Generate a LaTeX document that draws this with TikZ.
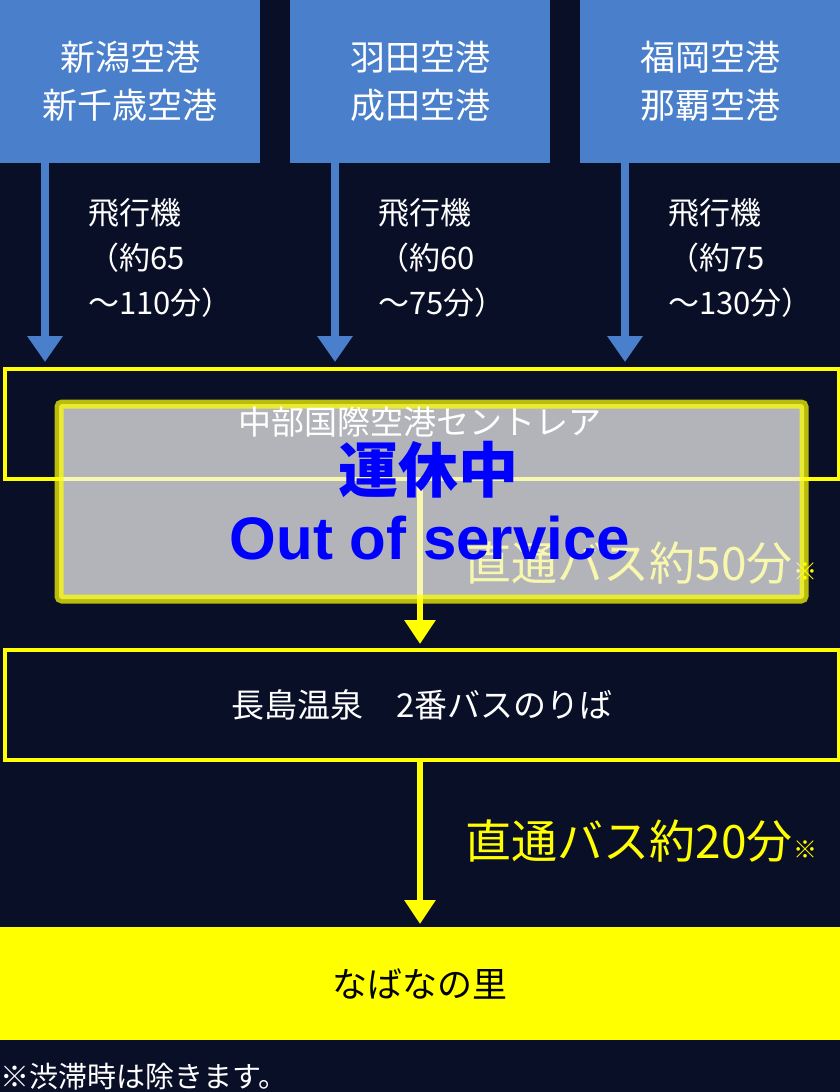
\documentclass[tikz,border=0pt]{standalone}
\usepackage{fontspec}
\setmainfont{Noto Sans CJK JP}
\usetikzlibrary{arrows.meta}
\definecolor{bg}{HTML}{0A0F28}
\definecolor{topblue}{HTML}{4A7FCB}
\definecolor{yel}{HTML}{FFFF00}
\definecolor{ovgray}{HTML}{F4F4F2}
\begin{document}
\begin{tikzpicture}[x=1pt,y=-1pt,
  topbox/.style={fill=topblue,minimum width=260pt,minimum height=163pt,anchor=north west,inner sep=0pt,text=white,font=\fontsize{35}{48}\selectfont,align=center},
  bluearrow/.style={topblue,line width=8pt,-{Triangle[length=26pt,width=34pt]}},
  yelarrow/.style={yel,line width=6pt,-{Triangle[length=24pt,width=30pt]}},
  framebox/.style={draw=yel,line width=4pt,minimum width=834pt,minimum height=110pt,anchor=north west,inner sep=0pt,text=white,font=\fontsize{33}{36}\selectfont},
  flight/.style={anchor=north west,text=white,align=left,font=\fontsize{31}{45}\selectfont,inner sep=0pt},
  buslabel/.style={text=yel,font=\fontsize{46}{48}\selectfont,anchor=base east,inner sep=0pt}]
\fill[bg] (0,0) rectangle (840,1092);
\useasboundingbox (0,0) rectangle (840,1092);
\node[topbox] (a1) at (0,0) {新潟空港\\新千歳空港};
\node[topbox] (a2) at (290,0) {羽田空港\\成田空港};
\node[topbox] (a3) at (580,0) {福岡空港\\那覇空港};
\node[framebox] (c) at (3,367) {\phantom{中部国際空港セントレア}};
\node[framebox] (n) at (3,648) {長島温泉　2番バスのりば};
\node[fill=yel,minimum width=840pt,minimum height=113pt,anchor=north west,inner sep=0pt,font=\fontsize{35}{38}\selectfont] (s) at (0,927) {なばなの里};
\coordinate (t1) at (45,362); \coordinate (t2) at (335,362); \coordinate (t3) at (625,362);
\draw[bluearrow] (a1.south west -| t1) -- (t1);
\draw[bluearrow] (a2.south west -| t2) -- (t2);
\draw[bluearrow] (a3.south west -| t3) -- (t3);
\node[flight] (f1) at (88,198) {飛行機\\（約65\\～110分）};
\node[flight] (f2) at (378,198) {飛行機\\（約60\\～75分）};
\node[flight] (f3) at (668,198) {飛行機\\（約75\\～130分）};
\draw[yelarrow] (c.south -| 420,0) -- (420,644);
\draw[yelarrow] (n.south -| 420,0) -- (420,924);
\node[buslabel] (b1) at (793,580) {直通バス約50分};
\node[text=yel,font=\fontsize{24}{24}\selectfont,anchor=base west,inner sep=0pt] (b1x) at (b1.base east) {※};
\node[buslabel] (b2) at (793,858) {直通バス約20分};
\node[text=yel,font=\fontsize{24}{24}\selectfont,anchor=base west,inner sep=0pt] (b2x) at (b2.base east) {※};
\node[anchor=base west,text=white,font=\fontsize{29}{30}\selectfont,inner sep=0pt] (fn) at (0,1087) {※渋滞時は除きます。};
% overlay
\draw[fill=ovgray,fill opacity=0.72,draw=yel,draw opacity=0.72,line width=9pt,rounded corners=3pt] (59,404) rectangle (804,599);
\node[text=white,font=\fontsize{33}{36}\selectfont,inner sep=0pt] (ct) at (420,422) {中部国際空港セントレア};
\node[text=blue,font=\bfseries\fontsize{60}{62}\selectfont,inner sep=0pt] (o1) at (428,470) {運休中};
\node[text=blue,font=\fontspec{Liberation Sans}\bfseries\fontsize{60}{62}\selectfont,inner sep=0pt] (o2) at (430,538) {Out of service};
\end{tikzpicture}
\end{document}
